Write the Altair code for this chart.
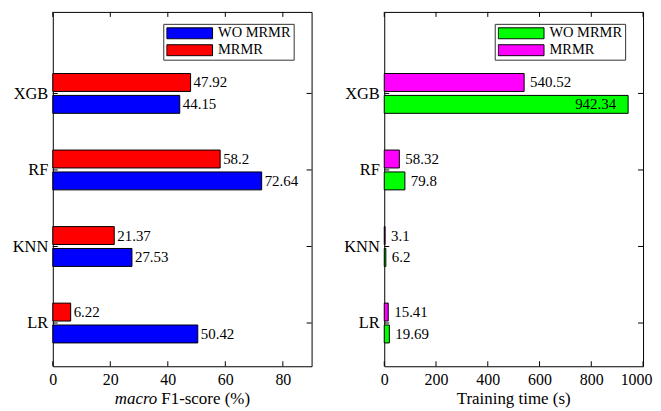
import json
import altair as alt
import pandas as pd

# ---- data ----
models = ["LR", "KNN", "RF", "XGB"]
methods = ["WO MRMR", "MRMR"]
f1_wo = [50.42, 27.53, 72.64, 44.15]
f1_mrmr = [6.22, 21.37, 58.2, 47.92]
time_wo = [19.69, 6.2, 79.8, 942.34]
time_mrmr = [15.41, 3.1, 58.32, 540.52]

f1_ticks = [0, 20, 40, 60, 80]
time_ticks = [0, 200, 400, 600, 800, 1000]

f1_title_italic = "macro"
f1_title_rest = "F1-score (%)"
time_title = "Training time (s)"

FONT = "Liberation Serif, Times New Roman, serif"
W, H = 260, 356
OFFS = {"WO MRMR": 11, "MRMR": -11}


def build_df(wo, mrmr, xmax):
    rows = []
    for i, m in enumerate(models):
        for meth, vals in (("WO MRMR", wo), ("MRMR", mrmr)):
            v = vals[i]
            rows.append({"model": m, "idx": i + 1, "method": meth, "value": v,
                         "label": f"{v:g}", "inside": bool(v > 0.85 * xmax)})
    return pd.DataFrame(rows)


def panel(wo, mrmr, xmax, xticks, colors, title_layers, dx):
    df = build_df(wo, mrmr, xmax)
    label_expr = "%s[datum.value]" % json.dumps([""] + models)
    xaxis = alt.Axis(values=xticks, title=None, ticks=False, domain=False, grid=False,
                     labelPadding=5, labelFont=FONT, labelFontSize=16, labelColor="black",
                     labelFlush=False, format="d",
                     labelOffset=alt.condition("datum.value >= 1000", alt.value(-7), alt.value(0)))
    yaxis = alt.Axis(values=[1, 2, 3, 4], labelExpr=label_expr, title=None, ticks=False,
                     domain=False, grid=False, labelPadding=5, labelFont=FONT,
                     labelFontSize=16.5, labelColor="black", minExtent=44, maxExtent=44)
    xs = alt.Scale(domain=[0, xmax], nice=False, zero=True)
    ys = alt.Scale(domain=[0.5, 5], nice=False, zero=False)
    X = lambda f: alt.X(f, scale=xs, axis=xaxis)
    Y = lambda f: alt.Y(f, scale=ys, axis=yaxis)
    legend = alt.Legend(title=None, orient="none", legendX=111, legendY=12,
                        symbolType="M-1,-0.24L1,-0.24L1,0.24L-1,0.24Z", symbolSize=2116,
                        symbolStrokeColor="black", symbolStrokeWidth=1, symbolOpacity=1,
                        clipHeight=13, rowPadding=2, padding=3, labelOffset=5,
                        labelFont=FONT, labelFontSize=14.5, labelColor="black",
                        strokeColor="#333333", fillColor="white", symbolOffset=0)
    color = alt.Color("method:N", scale=alt.Scale(domain=methods, range=colors), legend=legend)

    base = alt.Chart(df)
    layers = []
    for meth in methods:
        o = OFFS[meth]
        sub = base.transform_filter(alt.datum.method == meth)
        layers.append(sub.mark_bar(orient="horizontal", size=18, yOffset=o, stroke="black",
                                   strokeWidth=1).encode(x=X("value:Q"), y=Y("idx:Q"), color=color))
    for meth in methods:
        o = OFFS[meth]
        sub = base.transform_filter(alt.datum.method == meth)
        layers.append(sub.transform_filter("!datum.inside").mark_text(
            align="left", baseline="middle", dx=dx, yOffset=o, font=FONT, fontSize=15,
            color="black").encode(x=X("value:Q"), y=Y("idx:Q"), text="label:N"))
        layers.append(sub.transform_filter("datum.inside").mark_text(
            align="right", baseline="middle", dx=-12, yOffset=o, font=FONT, fontSize=15,
            color="black").encode(x=X("value:Q"), y=Y("idx:Q"), text="label:N"))

    xt = alt.Chart(pd.DataFrame({"v": xticks}))
    layers.append(xt.mark_rule(color="black").encode(x=X("v:Q"), y=alt.value(H), y2=alt.value(H - 5)))
    layers.append(xt.mark_rule(color="black").encode(x=X("v:Q"), y=alt.value(0), y2=alt.value(5)))
    yt = alt.Chart(pd.DataFrame({"idx": [1, 2, 3, 4]}))
    layers.append(yt.mark_rule(color="black").encode(y=Y("idx:Q"), x=alt.value(0), x2=alt.value(5)))
    layers.append(yt.mark_rule(color="black").encode(y=Y("idx:Q"), x=alt.value(W - 5), x2=alt.value(W)))
    layers.extend(title_layers)
    return alt.layer(*layers).properties(width=W, height=H)


TY = H + 38
left_titles = [
    alt.Chart(pd.DataFrame({"t": [f1_title_italic]})).mark_text(
        align="right", baseline="alphabetic", font=FONT, fontSize=17, fontStyle="italic",
        color="black").encode(x=alt.value(W / 2 - 25), y=alt.value(TY), text="t:N"),
    alt.Chart(pd.DataFrame({"t": [f1_title_rest]})).mark_text(
        align="left", baseline="alphabetic", font=FONT, fontSize=17,
        color="black").encode(x=alt.value(W / 2 - 21), y=alt.value(TY), text="t:N"),
]
right_titles = [
    alt.Chart(pd.DataFrame({"t": [time_title]})).mark_text(
        align="center", baseline="alphabetic", font=FONT, fontSize=17,
        color="black").encode(x=alt.value(W / 2), y=alt.value(TY), text="t:N"),
]

left = panel(f1_wo, f1_mrmr, 90, f1_ticks, ["#0000ff", "#ff0000"], left_titles, 3)
right = panel(time_wo, time_mrmr, 1000, time_ticks, ["#00ff00", "#ff00ff"], right_titles, 6)

chart = alt.hconcat(left, right, spacing=27).resolve_scale(color="independent").properties(
    padding={"left": 0, "top": 2, "right": 0, "bottom": 0}, background="white"
).configure_view(stroke="black", strokeWidth=1, fill="white")

chart.save("out.html", embed_options={"renderer": "svg", "actions": False})
